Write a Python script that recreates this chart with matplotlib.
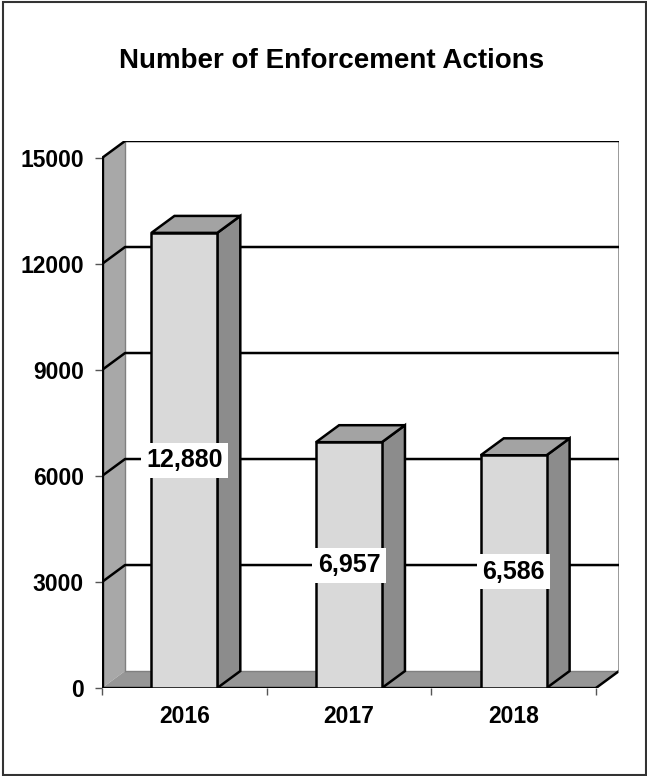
import matplotlib
matplotlib.use('Agg')
import matplotlib.pyplot as plt
from matplotlib.patches import Polygon, Rectangle

plt.rcParams['font.family'] = ['Liberation Sans', 'DejaVu Sans']
plt.rcParams['font.weight'] = 'bold'

years = ['2016', '2017', '2018']
actions = [12880, 6957, 6586]
labels = ['12,880', '6,957', '6,586']
yticks = [0, 3000, 6000, 9000, 12000, 15000]

ymax = 15000
# fake 3d depth, in data units
dx = 0.14
dy = 480
barw = 0.4

fig = plt.figure(figsize=(6.47, 7.76), dpi=100)
ax = fig.add_axes([102/647, 88/776, 517/647, 547/776])
ax.set_xlim(0, len(years) + dx)
ax.set_ylim(0, ymax + dy)
for s in ax.spines.values():
    s.set_visible(False)

lw = 1.8
# left wall
ax.add_patch(Polygon([(0, 0), (dx, dy), (dx, ymax + dy), (0, ymax)],
                     facecolor='#a8a8a8', edgecolor='none', zorder=1))
ax.plot([dx, dx], [dy, ymax + dy], color='#808080', lw=1, zorder=2)
# floor
n = len(years)
ax.add_patch(Polygon([(0, 0), (n, 0), (n + dx, dy), (dx, dy)],
                     facecolor='#969696', edgecolor='none', zorder=1))
ax.plot([dx, n + dx], [dy, dy], color='#808080', lw=1, zorder=2)
ax.plot([n, n + dx], [0, dy], color='black', lw=lw, zorder=2)
# back wall right edge
ax.plot([n + dx, n + dx], [dy, ymax + dy], color='#909090', lw=2, zorder=2)

# gridlines on walls
for v in yticks[1:]:
    ax.plot([0, dx, n + dx], [v, v + dy, v + dy], color='black', lw=lw, zorder=2)

# front axis lines
ax.plot([0, 0], [0, ymax], color='black', lw=lw + 0.6, zorder=3)
ax.plot([0, n], [0, 0], color='black', lw=lw + 0.6, zorder=3)

# bars
for i, v in enumerate(actions):
    x0 = i + 0.5 - barw / 2
    x1 = x0 + barw
    ax.add_patch(Polygon([(x1, 0), (x1 + dx, dy), (x1 + dx, v + dy), (x1, v)],
                         facecolor='#8c8c8c', edgecolor='black', lw=lw, zorder=4))
    ax.add_patch(Polygon([(x0, v), (x1, v), (x1 + dx, v + dy), (x0 + dx, v + dy)],
                         facecolor='#a3a3a3', edgecolor='black', lw=lw, zorder=4))
    ax.add_patch(Rectangle((x0, 0), barw, v, facecolor='#d9d9d9',
                           edgecolor='black', lw=lw, zorder=5))
    ax.text(i + 0.5, v / 2, labels[i], ha='center', va='center', fontsize=18,
            fontweight='bold', zorder=6,
            bbox=dict(facecolor='white', edgecolor='none', pad=4))

ax.set_yticks(yticks)
ax.set_yticklabels([str(t) for t in yticks], fontsize=16.5, fontweight='bold')
ax.tick_params(axis='y', length=5, width=1, color='#555555', pad=8)
ax.set_xticks([i + 0.5 for i in range(n)])
ax.set_xticklabels(years, fontsize=16.5, fontweight='bold')
ax.tick_params(axis='x', length=0, pad=12)
ax.set_xticks(range(n + 1), minor=True)
ax.tick_params(axis='x', which='minor', length=5, width=1, color='#555555')

fig.text(0.513, 1 - 61/776, 'Number of Enforcement Actions', ha='center',
         va='center', fontsize=20, fontweight='bold')

fig.patches.append(Rectangle((3/647, 1/776), 643/647, 773/776, transform=fig.transFigure,
                             fill=False, edgecolor='#333333', lw=1.5))

fig.savefig('out.png', dpi=100)
